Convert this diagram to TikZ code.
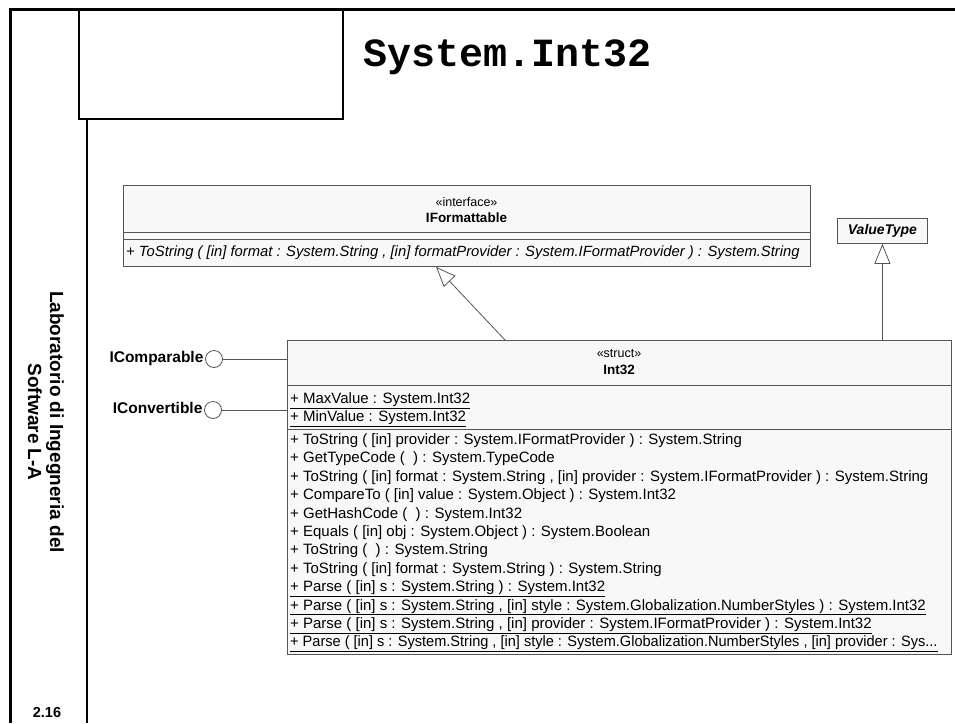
\documentclass[tikz,border=0pt]{standalone}
\usepackage{fontspec}
\setmainfont{Liberation Sans}
\newfontfamily\titlefont{Liberation Mono}
\usetikzlibrary{arrows.meta,calc}

\definecolor{boxline}{HTML}{555555}
\definecolor{boxfill}{HTML}{F8F8F8}

\begin{document}
\begin{tikzpicture}[x=1pt,y=-1pt,
  umlbox/.style={draw=boxline, fill=boxfill, line width=0.8pt, inner sep=0pt, anchor=north west},
  umltxt/.style={font=\fontsize{15}{18}\selectfont, inner sep=0pt, text height=10.5pt, text depth=3.5pt},
  umlop/.style={umltxt, anchor=west},
  stereo/.style={umltxt, font=\fontsize{12.5}{15}\selectfont},
  umlname/.style={umltxt, font=\bfseries\fontsize{13.5}{16}\selectfont},
  compline/.style={draw=boxline, line width=0.8pt},
  gener/.style={draw=boxline, line width=0.8pt,
    -{Triangle[open, length=20pt, width=16pt, fill=white]}},
  lolli/.style={circle, draw=boxline, fill=white, line width=0.8pt, minimum size=17pt, inner sep=0pt},
  lollilabel/.style={font=\bfseries\fontsize{15.5}{18}\selectfont, inner sep=0pt, anchor=east,
    text height=11pt, text depth=3.5pt},
]
\useasboundingbox (0,0) rectangle (955,723);

% page frame
\draw[line width=3pt] (10,723) -- (10,9) -- (955,9);
\draw[line width=1.3pt] (79,9) rectangle (343,119);
\draw[line width=1.3pt] (87,119) -- (87,723);

% title
\node[font=\titlefont\bfseries\fontsize{40}{44}\selectfont, inner sep=0pt] (title) at (508,57) {System.Int32};

% side banner
\node[rotate=-90, align=center, inner sep=0pt,
      font=\bfseries\fontsize{19}{22}\selectfont] (banner) at (46,422)
  {Laboratorio di Ingegneria del\\Software L-A};
\node[font=\bfseries\fontsize{14.5}{17}\selectfont, inner sep=0pt] (pagenum) at (47,712) {2.16};

% interface IFormattable
\node[umlbox, minimum width=687pt, minimum height=81pt] (ifmt) at (123,185) {};
\node[stereo] (ifmtst) at (466.5,203) {«interface»};
\node[umlname] (ifmtname) at (466.5,219) {IFormattable};
\draw[compline] (ifmt.west |- 0,232) -- (ifmt.east |- 0,232);
\draw[compline] (ifmt.west |- 0,239) -- (ifmt.east |- 0,239);
\node[umlop, font=\itshape\fontsize{14.8}{18}\selectfont] (ifmtop) at (126,253)
  {+ ToString ( [in] format : System.String , [in] formatProvider : System.IFormatProvider ) : System.String};

% class ValueType
\node[umlbox, minimum width=90pt, minimum height=25pt] (vt) at (837,218) {};
\node[umlname, font=\bfseries\itshape\fontsize{14}{16}\selectfont] (vtname) at (vt.center) {ValueType};

% struct Int32
\node[umlbox, minimum width=664pt, minimum height=314pt] (int32) at (287,340) {};
\node[stereo] (intst) at (619,354) {«struct»};
\node[umlname] (intname) at (619,371) {Int32};
\draw[compline] (int32.west |- 0,385) -- (int32.east |- 0,385);
\node[umlop] (a1) at (290,400) {\underline{+ MaxValue : System.Int32}};
\node[umlop] (a2) at (290,418) {\underline{+ MinValue : System.Int32}};
\draw[compline] (int32.west |- 0,429) -- (int32.east |- 0,429);
\node[umlop] (o1) at (290,441.0) {+ ToString ( [in] provider : System.IFormatProvider ) : System.String};
\node[umlop] (o2) at (290,459.4) {+ GetTypeCode ( \ ) : System.TypeCode};
\node[umlop] (o3) at (290,477.8) {+ ToString ( [in] format : System.String , [in] provider : System.IFormatProvider ) : System.String};
\node[umlop] (o4) at (290,496.2) {+ CompareTo ( [in] value : System.Object ) : System.Int32};
\node[umlop] (o5) at (290,514.6) {+ GetHashCode ( \ ) : System.Int32};
\node[umlop] (o6) at (290,533.0) {+ Equals ( [in] obj : System.Object ) : System.Boolean};
\node[umlop] (o7) at (290,551.4) {+ ToString ( \ ) : System.String};
\node[umlop] (o8) at (290,569.8) {+ ToString ( [in] format : System.String ) : System.String};
\node[umlop] (o9) at (290,588.2) {\underline{+ Parse ( [in] s : System.String ) : System.Int32}};
\node[umlop] (o10) at (290,606.6) {\underline{+ Parse ( [in] s : System.String , [in] style : System.Globalization.NumberStyles ) : System.Int32}};
\node[umlop] (o11) at (290,625.0) {\underline{+ Parse ( [in] s : System.String , [in] provider : System.IFormatProvider ) : System.Int32}};
\node[umlop] (o12) at (290,643.4) {\scalebox{0.97}[1]{\underline{+ Parse ( [in] s : System.String , [in] style : System.Globalization.NumberStyles , [in] provider : Sys...}}};

% generalizations
\draw[gener] (int32.north -| 505,0) -- (ifmt.south -| 436,0);
\draw[gener] (int32.north -| vt.south) -- (vt.south);

% provided interfaces
\node[lolli] (icmp) at (214,359) {};
\node[lollilabel] (icmplabel) at ([xshift=-1.5pt]icmp.west) {IComparable};
\draw[boxline, line width=0.8pt] (icmp.east) -- (int32.west |- icmp.east);
\node[lolli] (icnv) at (213,410) {};
\node[lollilabel] (icnvlabel) at ([xshift=-1.5pt]icnv.west) {IConvertible};
\draw[boxline, line width=0.8pt] (icnv.east) -- (int32.west |- icnv.east);
\end{tikzpicture}
\end{document}
